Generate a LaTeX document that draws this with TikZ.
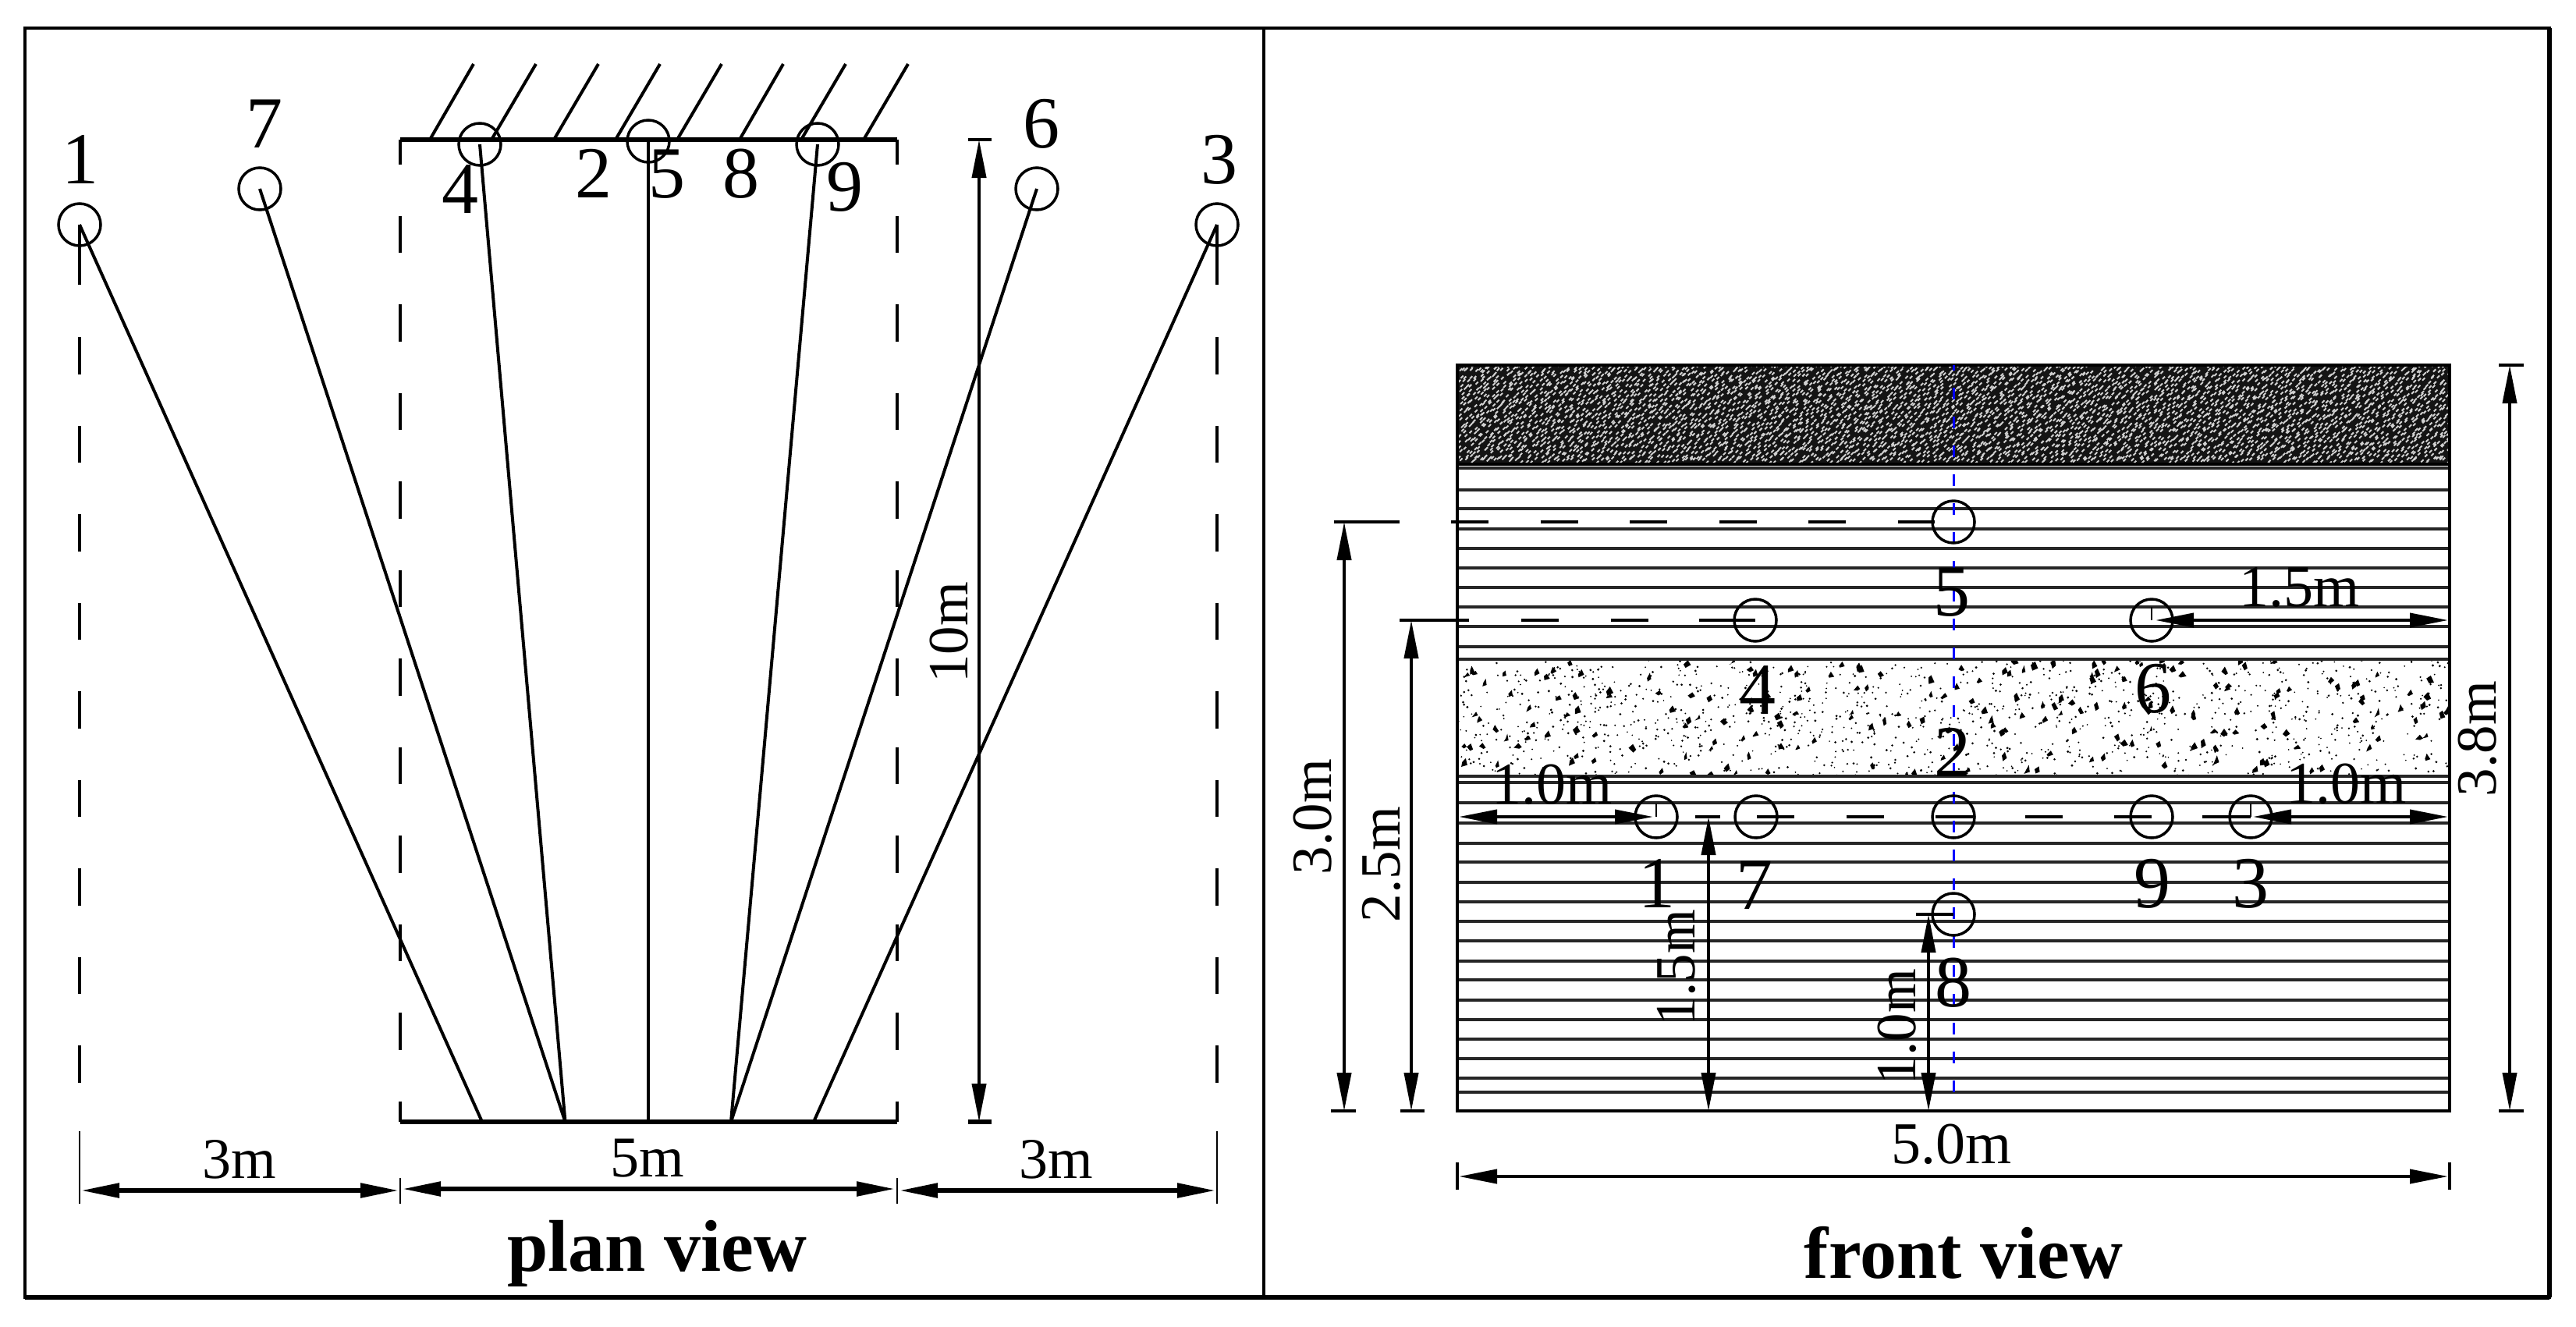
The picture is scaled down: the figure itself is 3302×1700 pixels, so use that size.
\documentclass[tikz,border=0pt]{standalone}
\usepackage{fontspec}
\setmainfont{Liberation Serif}
\usetikzlibrary{arrows.meta}
\tikzset{
  numlab/.style={font=\fontsize{94}{94}\selectfont,anchor=base,inner sep=0pt,text=black},
  dimlab/.style={font=\fontsize{76}{76}\selectfont,anchor=base,inner sep=0pt,text=black},
  planlab/.style={font=\fontsize{74}{74}\selectfont,anchor=base,inner sep=0pt,text=black},
  vertlab/.style={font=\fontsize{73}{73}\selectfont,anchor=base,inner sep=0pt,text=black,rotate=90},
  titlelab/.style={font=\fontsize{94}{94}\selectfont\bfseries,anchor=base,inner sep=0pt},
  hole/.style={circle,draw=black,line width=3.5pt,minimum size=54pt,inner sep=0pt},
  thin line/.style={line width=4pt,draw=black},
  thick line/.style={line width=5.5pt,draw=black},
  layer/.style={line width=3.5pt,draw=black!85},
  longdash/.style={line width=4pt,draw=black,dash pattern=on 47.5pt off 66pt},
  dimarrow/.style={{Triangle[length=49pt,width=18pt]}-{Triangle[length=49pt,width=18pt]}},
  axisdash/.style={line width=3pt,draw=blue,dash pattern=on 15pt off 22pt},
}
\begin{document}
\begin{tikzpicture}[x=1pt,y=-1pt]
\useasboundingbox (0,0) rectangle (3302,1700);
\fill[white] (0,0) rectangle (3302,1700);
\pgfmathsetseed{4217}
% frame
\draw[line width=3.5pt] (32,36) rectangle (3268,1663);
\draw[thick line] (32,1663) -- (3268,1663);
\draw[thick line] (3268,36) -- (3268,1663);
\draw[line width=4pt] (1620,36) -- (1620,1663);

% ---------- plan view
\foreach \xa/\xb in {551/607,630/687,710/767,789/846,868/925,948/1004,1027/1084,1107/1164}
  \draw[thin line] (\xa,179) -- (\xb,82);
\coordinate (pTL) at (513,179); \coordinate (pTR) at (1150,179);
\coordinate (pBL) at (513,1438); \coordinate (pBR) at (1150,1438);
\draw[thick line] (pTL) -- (pTR);
\draw[thick line] (pBL) -- (pBR);
\draw[longdash,dash phase=16pt] (pTL) -- (pBL);
\draw[longdash,dash phase=16pt] (pTR) -- (pBR);
\node[hole] (p1) at (102,288) {};
\node[hole] (p7) at (333,242) {};
\node[hole] (p4) at (615,185) {};
\node[hole] (p5) at (831,181) {};
\node[hole] (p9) at (1048,185) {};
\node[hole] (p6) at (1329,242) {};
\node[hole] (p3) at (1560,288) {};
\coordinate (b1) at (618,1438); \coordinate (b2) at (724.5,1438);
\coordinate (b3) at (831,1438); \coordinate (b4) at (937,1438);
\coordinate (b5) at (1043,1438);
\draw[thin line] (p1.center) -- (b1);
\draw[thin line] (p7.center) -- (b2);
\draw[thin line] (p4.center) -- (b2);
\draw[thin line] (p5.center) -- (b3);
\draw[thin line] (p9.center) -- (b4);
\draw[thin line] (p6.center) -- (b4);
\draw[thin line] (p3.center) -- (b5);
% side dashed lines
\draw[thin line] (p1.center) -- (102,365);
\draw[thin line] (p3.center) -- (1560,365);
\draw[longdash] (102,432) -- (102,1450);
\draw[longdash] (1560,432) -- (1560,1450);
\draw[line width=2.5pt] (102,1450) -- (102,1543);
\draw[line width=2.5pt] (1560,1450) -- (1560,1543);
\draw[line width=2.5pt] (513,1510) -- (513,1543);
\draw[line width=2.5pt] (1150,1510) -- (1150,1543);
\coordinate (d0) at (104,1526); \coordinate (d1) at (511,1526);
\coordinate (d2) at (516,1524); \coordinate (d3) at (1147,1524);
\coordinate (d4) at (1153,1526); \coordinate (d5) at (1558,1526);
\draw[thick line,dimarrow] (d0) -- (d1);
\draw[thick line,dimarrow] (d2) -- (d3);
\draw[thick line,dimarrow] (d4) -- (d5);
\coordinate (t10a) at (1255,179); \coordinate (t10b) at (1255,1438);
\draw[thin line,dimarrow] (t10a) -- (t10b);
\draw[thin line] (1241,179) -- (1271,179);
\draw[thick line] (1241,1438) -- (1271,1438);
% plan labels
\node[numlab] (pl1) at (103,235) {1};
\node[numlab] (pl7) at (339,189) {7};
\node[numlab] (pl4) at (590,273) {4};
\node[numlab] (pl2) at (761,253) {2};
\node[numlab] (pl5) at (855,253) {5};
\node[numlab] (pl8) at (950,253) {8};
\node[numlab] (pl9) at (1083,270) {9};
\node[numlab] (pl6) at (1335,189) {6};
\node[numlab] (pl3) at (1563,235) {3};
\node[vertlab] (l10) at (1240,811) {10m};
\node[planlab] (l3a) at (307,1510) {3m};
\node[planlab] (l5) at (830,1508) {5m};
\node[planlab] (l3b) at (1354,1510) {3m};
\node[titlelab] (tplan) at (842,1629) {plan view};

% ---------- front view
% dark layer
\begin{scope}
\clip (1868,468) rectangle (3140,595);
\fill[black!92] (1868,468) rectangle (3140,595);
\foreach \i in {0,...,211}{
\fill[black!18] \foreach \j in {0,...,20}{
  ({1868+\i*6+6*rnd},{468+\j*6+6*rnd}) -- ++(3.2,-3.2) -- ++(1.4,1.4) -- ++(-3.2,3.2) -- cycle
};}
\end{scope}
% sand layer
\begin{scope}
\clip (1868,846) rectangle (3140,994);
\foreach \k in {1,...,40}{
\fill[black] \foreach \i in {1,...,30}{
  ({1868+1272*rnd},{846+148*rnd}) circle ({0.9+0.7*rnd})
};}
\foreach \k in {1,...,14}{
\fill[black] \foreach \i in {1,...,15}{
  ({1868+1272*rnd},{846+148*rnd}) -- ++({2+4*rnd},{-3-4*rnd}) -- ++({1+4*rnd},{4+5*rnd}) -- ++({-3-5*rnd},{1+3*rnd}) -- cycle
};}
\end{scope}
\foreach \y in {600,628,652,678,703,728,753,778,803,829,845,995,1003,1029,1055,1081,1105,1131,1156,1181,1206,1232,1256,1282,1307,1332,1357,1382,1400}
  \draw[layer] (1868,\y) -- (3140,\y);
\draw[line width=4pt] (1868,468) rectangle (3140,1424);
\draw[line width=4pt] (1868,595) -- (3140,595);
\coordinate (axT) at (2504,468); \coordinate (axB) at (2504,1400);
\draw[axisdash] (axB) -- (axT);
% holes
\node[hole] (f5) at (2504,669) {};
\node[hole] (f4) at (2250,795) {};
\node[hole] (f6) at (2758,795) {};
\node[hole] (f1) at (2123,1047) {};
\node[hole] (f7) at (2251,1047) {};
\node[hole] (f2) at (2504,1047) {};
\node[hole] (f9) at (2758,1047) {};
\node[hole] (f3) at (2885,1047) {};
\node[hole] (f8) at (2504,1172) {};
% dashed levels
\draw[thin line] (1710,669) -- (1794,669);
\draw[longdash,dash pattern=on 48pt off 66.5pt] (1860,669) -- (2480,669);
\draw[thin line] (1794,795) -- (1883,795);
\draw[longdash,dash pattern=on 48pt off 66.5pt] (1950,795) -- (2178,795);
\draw[thin line] (2178,795) -- (f4.center);
\draw[longdash,dash pattern=on 48pt off 66.5pt] (2252,1047) -- (2760,1047);
\draw[thin line] (2823,1047) -- (f3.center);
\draw[thin line] (2173,1047) -- (2205,1047);
% ticks in holes
\draw[line width=2.5pt] (f1.center) -- +(0,-17);
\draw[line width=2.5pt] (f6.center) -- +(0,-17);
\draw[line width=2.5pt] (f3.center) -- +(0,-17);
\draw[thin line] (2456,1172) -- (f8.center);
% dimensions
\coordinate (e30a) at (1723,669); \coordinate (e30b) at (1723,1424);
\coordinate (e25a) at (1809,795); \coordinate (e25b) at (1809,1424);
\coordinate (e38a) at (3217,468); \coordinate (e38b) at (3217,1424);
\coordinate (e50a) at (1870,1508); \coordinate (e50b) at (3138,1508);
\coordinate (e15a) at (2190,1047); \coordinate (e15b) at (2190,1424);
\coordinate (e10a) at (2472,1172); \coordinate (e10b) at (2472,1424);
\coordinate (hL) at (1870,1047); \coordinate (h1) at (2119,1047);
\coordinate (h3) at (2888,1047); \coordinate (hR) at (3138,1047);
\coordinate (h6) at (2763,795); \coordinate (hR6) at (3138,795);
\draw[thin line,dimarrow] (e30a) -- (e30b);
\draw[thin line,dimarrow] (e25a) -- (e25b);
\draw[thin line,dimarrow] (e38a) -- (e38b);
\draw[thin line,dimarrow] (e50a) -- (e50b);
\draw[thin line,dimarrow] (e15a) -- (e15b);
\draw[thin line,dimarrow] (e10a) -- (e10b);
\draw[thin line,dimarrow] (hL) -- (h1);
\draw[thin line,dimarrow] (h3) -- (hR);
\draw[thin line,dimarrow] (h6) -- (hR6);
\draw[thin line] (1706,1424) -- (1738,1424);
\draw[thin line] (1795,1424) -- (1826,1424);
\draw[thin line] (3203,468) -- (3235,468);
\draw[thin line] (3203,1424) -- (3235,1424);
\draw[thin line] (1868,1490) -- (1868,1525);
\draw[thin line] (3140,1490) -- (3140,1525);
% front labels
\node[numlab] (fl5) at (2502,789) {5};
\node[numlab] (fl4) at (2253,915) {4};
\node[numlab] (fl6) at (2760,913) {6};
\node[numlab] (fl2) at (2503,995) {2};
\node[numlab] (fl1) at (2124,1163) {1};
\node[numlab] (fl7) at (2249,1165) {7};
\node[numlab] (fl9) at (2759,1163) {9};
\node[numlab] (fl3) at (2885,1163) {3};
\node[numlab] (fl8) at (2504,1290) {8};
\node[dimlab] (ll10) at (1990,1030) {1.0m};
\node[dimlab] (lr10) at (3008,1029) {1.0m};
\node[dimlab] (lr15) at (2948,777) {1.5m};
\node[dimlab] (l50) at (2502,1491) {5.0m};
\node[vertlab] (l30) at (1706,1047) {3.0m};
\node[vertlab] (l25) at (1794,1108) {2.5m};
\node[vertlab] (v15) at (2172,1240) {1.5m};
\node[vertlab] (v10) at (2455,1316) {1.0m};
\node[vertlab] (l38) at (3199,947) {3.8m};
\node[titlelab] (tfront) at (2517,1638) {front view};
\end{tikzpicture}
\end{document}
